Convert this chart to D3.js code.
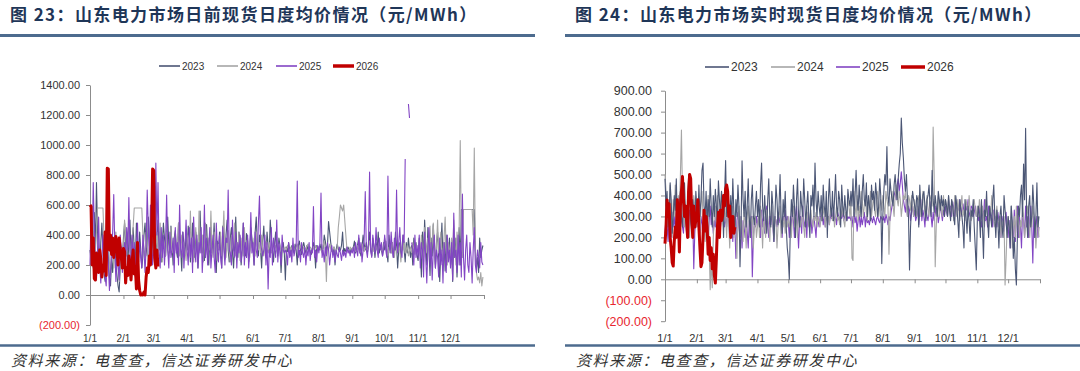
<!DOCTYPE html>
<html>
<head>
<meta charset="utf-8">
<script src="https://cdn.jsdelivr.net/npm/d3@7"></script>
<style>
  body { margin: 0; background: #fff; }
  svg { display: block; }
</style>
</head>
<body>
<svg id="chart" width="1080" height="371"></svg>
<script>
// month starts (day index) and tick labels
var monthStarts = [0, 31, 59, 90, 120, 151, 181, 212, 243, 273, 304, 334];
var monthLabels = ["1/1","2/1","3/1","4/1","5/1","6/1","7/1","8/1","9/1","10/1","11/1","12/1"];
var years = ["2023", "2024", "2025", "2026"];

// day-ahead (日前) daily averages, one value per day
var da2023 = [
  300,250,420,180,550,300,750,420,260,180,350,480,300,150,90,200,380,260,120,60,240,150,300,420,200,130,60,20,180,320,250,
  380,480,300,420,200,350,500,280,380,450,300,220,480,350,250,420,300,180,260,400,480,320,260,520,380,300,420,260,
  450,320,260,380,500,300,420,220,350,480,380,260,400,520,340,280,460,330,200,380,430,300,250,480,360,300,160,420,350,280,400,
  300,460,380,220,340,480,300,250,420,360,180,300,560,320,280,400,230,350,470,300,200,380,450,280,330,480,260,150,360,300,
  420,300,180,460,350,240,400,500,300,220,380,450,280,180,330,520,300,250,420,380,200,300,480,330,260,410,360,220,300,450,380,
  300,200,420,520,330,260,400,300,180,360,460,300,250,420,330,280,500,380,300,220,340,420,300,260,380,330,150,300,350,280,
  100,320,290,350,300,260,330,310,280,340,300,200,330,360,300,270,320,350,310,280,330,300,320,290,270,310,350,300,180,330,300,
  320,300,340,290,310,400,360,300,330,490,420,350,300,280,320,200,300,340,310,290,300,330,420,280,310,290,300,320,300,280,310,
  300,320,360,280,300,340,380,300,260,320,400,340,300,350,280,330,420,300,260,380,330,250,350,300,420,280,330,300,260,350,
  300,360,280,220,400,320,280,350,250,300,420,330,180,300,350,260,320,400,300,220,350,280,380,300,250,330,200,380,300,350,260,
  230,380,300,120,420,250,500,340,200,450,300,130,380,260,470,300,180,350,420,250,90,300,480,220,350,160,400,300,240,380,
  200,330,90,420,250,380,120,300,450,200,570,570,570,570,570,570,570,570,570,570,570,570,570,300,180,250,150,380,250,300,330
];
var da2024 = [
  300,220,460,350,200,300,420,580,580,580,580,580,580,380,250,150,300,400,220,120,350,260,180,300,420,250,180,90,200,310,260,
  300,500,420,260,380,480,300,210,350,460,580,580,580,580,580,580,580,580,400,300,250,420,350,200,300,450,320,260,
  380,200,300,420,260,350,480,300,220,380,330,260,420,300,250,370,450,280,330,220,400,300,350,480,260,320,400,280,350,300,230,
  400,320,260,560,300,380,220,340,450,300,260,560,350,280,400,220,330,480,300,260,380,300,560,320,250,420,300,360,230,340,
  300,420,260,380,560,300,250,360,430,280,220,400,330,300,480,260,350,300,420,230,380,300,260,450,330,280,380,300,250,360,320,
  300,380,260,420,330,300,350,280,400,300,260,330,360,300,280,350,310,280,320,350,300,330,300,280,340,310,290,320,300,310,
  320,300,330,310,290,320,300,330,310,300,320,340,300,310,330,300,290,320,310,300,330,340,300,320,310,290,320,300,330,310,300,
  320,310,300,280,330,360,300,90,320,300,340,310,290,300,320,300,290,310,450,520,600,580,560,600,500,400,310,300,280,320,310,
  300,320,310,290,300,330,300,280,320,340,300,290,320,310,300,330,360,310,300,320,290,300,330,300,280,350,310,300,290,320,
  380,340,300,260,320,300,280,350,300,250,330,300,280,340,300,220,320,300,360,280,300,330,260,300,320,280,350,300,270,330,300,
  280,320,260,400,300,220,450,330,280,380,300,460,250,350,480,300,200,330,500,280,350,420,300,250,380,520,300,200,350,300,
  250,380,300,500,350,200,420,300,450,1030,400,250,570,570,570,570,570,570,570,570,570,400,980,300,150,100,120,80,150,60,120
];
var da2025 = [
  200,550,300,750,420,180,100,300,520,200,80,250,400,300,120,60,350,200,30,150,280,420,670,300,90,300,200,100,400,300,150,
  250,350,200,450,300,650,300,150,400,250,350,120,300,480,220,350,250,180,400,300,150,320,700,450,250,600,380,200,
  300,250,880,400,750,300,180,450,250,400,200,350,667,300,180,420,250,300,380,150,450,280,350,200,600,300,250,420,180,330,500,
  300,200,450,250,380,150,520,300,220,400,180,350,280,450,150,300,600,250,380,200,320,450,180,300,400,250,150,480,300,220,
  400,250,180,450,300,200,380,350,700,300,280,200,500,300,250,420,180,350,280,400,220,300,480,200,350,250,400,180,300,550,280,
  350,200,420,300,250,480,660,350,300,260,300,400,200,350,40,300,250,450,200,380,300,250,500,220,350,280,200,400,300,280,
  300,280,200,350,250,300,220,380,260,300,330,760,250,300,220,350,280,250,320,200,300,260,350,230,300,280,590,250,300,220,330,
  280,350,680,250,300,220,320,260,350,300,200,280,330,250,300,220,300,270,250,320,280,230,300,260,290,250,320,280,300,260,300,
  280,320,250,350,300,260,400,280,350,220,300,380,689,300,250,350,820,300,250,400,320,280,450,300,250,380,300,350,260,300,
  400,300,250,793,350,280,420,300,250,380,300,700,280,350,450,300,250,400,350,907,null,null,1273,1180,null,350,300,200,400,250,330,
  250,400,180,350,300,120,420,250,80,300,450,200,350,100,300,400,180,300,250,120,380,200,300,80,350,250,150,400,220,300,
  180,350,100,547,250,300,150,400,200,350,120,673,250,100,300,400,200,150,350,250,80,300,450,200,150,300,250,180,350,220,200
];
var da2026 = [
  600,590,200,380,110,100,280,220,150,300,240,120,200,160,420,130,845,840,300,400,
  270,380,250,340,390,300,200,380,310,250,180,310,290,80,180,130,260,200,100,220,
  300,140,190,40,350,100,30,0,5,0,20,0,120,180,150,260,200,400,840,830,
  250,180,300,190
];

// real-time (实时) daily averages
var rt2023 = [
  480,350,420,250,300,460,380,220,300,400,330,480,280,200,350,420,300,250,380,460,300,220,350,500,400,280,230,380,320,250,420,
  350,280,450,300,380,520,555,350,300,420,260,380,300,480,350,250,400,300,430,350,280,470,380,300,420,350,200,400,
  567,300,420,350,250,400,280,480,330,220,380,300,450,350,60,250,565,380,300,420,250,350,480,300,200,380,450,300,260,350,420,
  300,380,250,450,555,350,280,400,300,220,380,480,300,250,420,350,180,300,450,380,260,350,500,300,220,380,300,420,250,150,
  100,0,250,380,300,450,350,200,380,480,300,250,420,350,300,480,380,250,350,420,300,200,400,350,450,300,555,380,300,420,350,
  300,400,280,450,350,300,420,200,380,480,350,300,420,280,380,500,350,300,420,380,250,450,350,300,400,330,280,430,380,350,
  420,350,480,300,400,520,380,330,450,360,300,420,500,380,350,460,300,400,350,280,450,380,420,330,460,400,300,350,480,400,75,
  300,420,500,450,633,400,350,480,420,380,350,450,500,430,380,480,550,600,770,650,580,480,420,500,380,300,44,250,350,420,380,
  350,300,400,380,250,450,350,300,400,420,350,280,380,400,450,350,300,520,380,320,400,350,300,420,380,330,400,350,380,300,
  380,350,300,400,330,280,380,350,300,260,400,350,280,200,380,330,300,250,150,380,300,220,350,280,180,330,300,380,250,150,45,
  280,350,300,200,380,250,100,330,300,420,280,200,350,300,250,380,450,300,200,330,280,150,300,350,250,200,400,330,280,200,
  300,250,150,350,280,100,200,50,-27,200,350,300,400,450,300,550,380,720,300,200,350,400,250,300,450,350,200,300,460,250,300
];
var rt2024 = [
  500,420,300,380,250,450,320,200,380,300,450,280,350,400,300,500,712,400,300,250,350,280,420,300,200,380,300,250,400,350,300,
  250,380,300,200,350,420,300,250,180,330,280,400,150,-50,100,-40,200,300,350,250,400,300,200,350,420,300,250,380,
  300,200,350,280,150,300,250,350,200,300,250,100,280,350,200,300,250,180,320,280,150,300,350,250,200,280,300,150,250,300,200,
  250,300,200,350,280,150,300,250,200,330,300,250,180,300,350,250,200,300,280,150,250,300,350,200,280,250,300,220,280,250,
  300,250,280,200,300,350,250,300,280,200,330,300,250,280,320,250,200,300,350,280,250,300,330,280,250,300,280,320,250,300,280,
  250,300,280,350,300,250,330,280,300,260,350,300,280,320,250,300,350,280,300,260,330,300,350,280,250,320,300,380,350,300,
  380,100,90,420,350,300,400,280,350,300,420,380,300,350,400,320,280,380,350,420,300,350,400,330,300,380,420,300,350,380,330,
  400,350,300,420,380,350,120,300,380,420,350,300,400,450,380,350,420,380,300,350,400,380,420,350,300,400,380,330,400,350,300,
  380,330,300,350,400,380,300,350,420,380,300,350,400,330,300,380,400,350,727,500,60,250,350,400,300,380,330,300,400,350,
  380,350,300,400,330,300,380,350,280,400,350,300,380,330,280,350,400,300,330,280,380,350,300,400,330,280,300,350,380,330,300,
  350,300,380,330,280,350,300,250,380,330,300,250,350,300,400,330,280,250,300,350,280,250,300,200,280,250,300,-27,100,250,
  300,250,200,350,150,250,300,200,350,250,300,200,280,250,350,300,200,250,300,350,280,200,300,250,350,300,280,150,250,300,200
];
var rt2025 = [
  220,300,250,180,350,280,200,320,250,300,230,350,280,200,320,260,300,250,220,350,280,300,250,200,330,280,250,300,50,220,300,
  250,350,280,220,300,260,200,330,280,250,320,200,280,350,260,300,220,280,250,330,300,200,280,250,300,350,280,250,
  300,250,320,280,200,350,260,180,300,250,100,280,320,250,200,300,150,280,250,200,300,230,150,280,250,300,12,200,280,250,300,
  250,300,280,200,330,250,300,220,280,350,250,200,300,260,320,250,180,300,280,250,320,270,300,250,200,300,280,330,250,300,
  280,200,300,250,330,280,200,300,350,260,150,280,300,220,350,280,250,300,200,320,280,250,300,220,280,300,250,200,300,280,250,
  300,280,320,260,300,250,330,280,300,260,310,290,300,330,280,300,260,320,300,280,310,290,320,280,300,310,280,300,290,300,
  280,300,250,320,270,300,230,280,310,250,300,260,290,320,250,300,270,280,260,300,290,270,300,280,260,290,300,280,270,300,290,
  280,300,270,310,290,260,300,280,320,350,380,400,420,380,450,480,420,460,513,450,380,350,320,380,300,350,330,280,320,350,300,
  330,280,300,350,260,320,380,280,330,300,250,350,300,280,330,370,300,250,320,280,350,300,330,270,300,350,320,280,330,300,
  350,320,300,380,330,350,300,370,340,300,380,320,350,330,380,300,340,360,320,300,350,330,380,320,300,350,340,300,320,350,300,
  320,280,350,300,250,330,300,380,280,300,250,350,280,320,300,250,330,280,300,250,320,280,300,200,260,300,230,280,320,250,
  200,280,150,300,250,200,330,180,280,350,200,300,250,150,320,280,200,350,250,300,200,280,350,250,78,300,200,250,300,200,250
];
var rt2026 = [
  170,250,378,300,360,200,150,80,63,180,250,200,380,300,130,350,420,490,380,300,
  350,280,200,420,500,480,300,200,350,250,280,300,380,250,150,60,80,200,330,230,
  300,250,120,200,90,150,50,120,20,-18,100,250,320,200,330,280,300,400,350,430,
  450,420,300,350,200,280,300,220,250
];

var daTicks = [-200, 0, 200, 400, 600, 800, 1000, 1200, 1400];
var rtTicks = [-200, -100, 0, 100, 200, 300, 400, 500, 600, 700, 800, 900];

var colors = ["#4b5675", "#a6a6a6", "#8245c4", "#c00000"];
var widths = [1.1, 1.1, 1.1, 3];

var svg = d3.select("#chart");
var fmt = d3.format(".2f");
var fmtVal = function(v) { return v < 0 ? "(" + fmt(-v) + ")" : fmt(v); };

function drawChart(opt) {
  var g = svg.append("g");

  // title + rules
  g.append("text")
      .attr("x", opt.left + 10)
      .attr("y", 21)
      .style("font-family", "'Noto Sans CJK SC', sans-serif")
      .style("font-weight", "700")
      .style("font-size", "17px")
      .style("letter-spacing", "1.4px")
      .attr("fill", "#1f3658")
      .text(opt.title);

  g.append("line")
      .attr("x1", opt.left).attr("x2", opt.right)
      .attr("y1", 35.5).attr("y2", 35.5)
      .attr("stroke", "#4d6b8e").attr("stroke-width", 3);

  g.append("line")
      .attr("x1", opt.left).attr("x2", opt.right)
      .attr("y1", 345.5).attr("y2", 345.5)
      .attr("stroke", "#4d6b8e").attr("stroke-width", 2.5);

  g.append("text")
      .attr("x", opt.left + 11)
      .attr("y", 366)
      .style("font-family", "'Noto Sans CJK SC', sans-serif")
      .style("font-style", "italic")
      .style("font-size", "15px")
      .style("letter-spacing", "1.6px")
      .attr("fill", "#333")
      .text("资料来源：电查查，信达证券研发中心");

  var x = d3.scaleLinear().domain([0, 365]).range([opt.x0, opt.x1]);
  var y = d3.scaleLinear().domain(d3.extent(opt.ticks)).range([opt.yBottom, opt.yTop]);

  // y axis
  var ya = g.append("g")
      .attr("transform", "translate(" + opt.x0 + ",0)")
      .call(d3.axisLeft(y).tickValues(opt.ticks).tickSize(4).tickSizeOuter(0)
        .tickPadding(opt.yPad).tickFormat(fmtVal));
  ya.select(".domain").attr("stroke", "#8c8c8c");
  ya.selectAll(".tick line").attr("stroke", "#8c8c8c");
  ya.selectAll(".tick text")
      .style("font-family", "'Liberation Sans', Arial, sans-serif")
      .style("font-size", opt.yFont + "px")
      .attr("fill", function(d) { return d < 0 ? "#e8262f" : "#333"; });

  // x axis on the zero line
  var xa = g.append("g")
      .attr("transform", "translate(0," + y(0) + ")")
      .call(d3.axisBottom(x).tickValues(monthStarts.concat([365])).tickSize(4)
        .tickSizeOuter(0).tickFormat(""));
  xa.select(".domain").attr("stroke", "#8c8c8c");
  xa.selectAll(".tick line").attr("stroke", "#8c8c8c");

  // month labels along the bottom
  g.selectAll(".mlab")
    .data(monthStarts)
    .enter().append("text")
      .attr("class", "mlab")
      .attr("x", function(d) { return x(d); })
      .attr("y", opt.labelY)
      .attr("text-anchor", "middle")
      .style("font-family", "'Liberation Sans Narrow', 'Liberation Sans', Arial, sans-serif")
      .style("font-size", opt.xFont + "px")
      .attr("fill", "#333")
      .text(function(d, i) { return monthLabels[i]; });

  var line = d3.line()
      .defined(function(d) { return d != null; })
      .x(function(d, i) { return x(i); })
      .y(function(d) { return y(d); });

  // draw in the given order, 2026 always last
  opt.order.forEach(function(k) {
    g.append("path")
        .datum(opt.series[k])
        .attr("d", line)
        .attr("fill", "none")
        .attr("stroke", colors[k])
        .attr("stroke-width", widths[k])
        .attr("stroke-linejoin", "round");
  });

  // legend
  var lg = g.selectAll(".leg")
    .data(years)
    .enter().append("g")
      .attr("transform", function(d, i) { return "translate(" + opt.legendX[i] + "," + opt.legendY + ")"; });
  lg.append("line")
      .attr("x1", 0).attr("x2", opt.legendLen)
      .attr("stroke", function(d, i) { return colors[i]; })
      .attr("stroke-width", function(d, i) { return widths[i] === 3 ? 3.5 : 1.6; });
  lg.append("text")
      .attr("x", opt.legendLen + 2)
      .attr("y", opt.legendFont * 0.36)
      .style("font-family", "'Liberation Sans', Arial, sans-serif")
      .style("font-size", opt.legendFont + "px")
      .attr("fill", "#333")
      .text(function(d) { return d; });
}

drawChart({
  left: 0, right: 535,
  title: "图 23：山东电力市场日前现货日度均价情况（元/MWh）",
  x0: 90, x1: 484, yTop: 85, yBottom: 325,
  ticks: daTicks, yPad: 6, yFont: 11, xFont: 10, labelY: 342,
  series: [da2023, da2024, da2025, da2026], order: [0, 1, 2, 3],
  legendX: [159, 217, 276, 333], legendY: 66, legendLen: 21, legendFont: 10
});

drawChart({
  left: 565, right: 1080,
  title: "图 24：山东电力市场实时现货日度均价情况（元/MWh）",
  x0: 665, x1: 1040, yTop: 90.7, yBottom: 321.2,
  ticks: rtTicks, yPad: 9, yFont: 12.5, xFont: 11, labelY: 342,
  series: [rt2023, rt2024, rt2025, rt2026], order: [2, 1, 0, 3],
  legendX: [705, 771, 836, 901], legendY: 67, legendLen: 24, legendFont: 12
});
</script>
</body>
</html>
